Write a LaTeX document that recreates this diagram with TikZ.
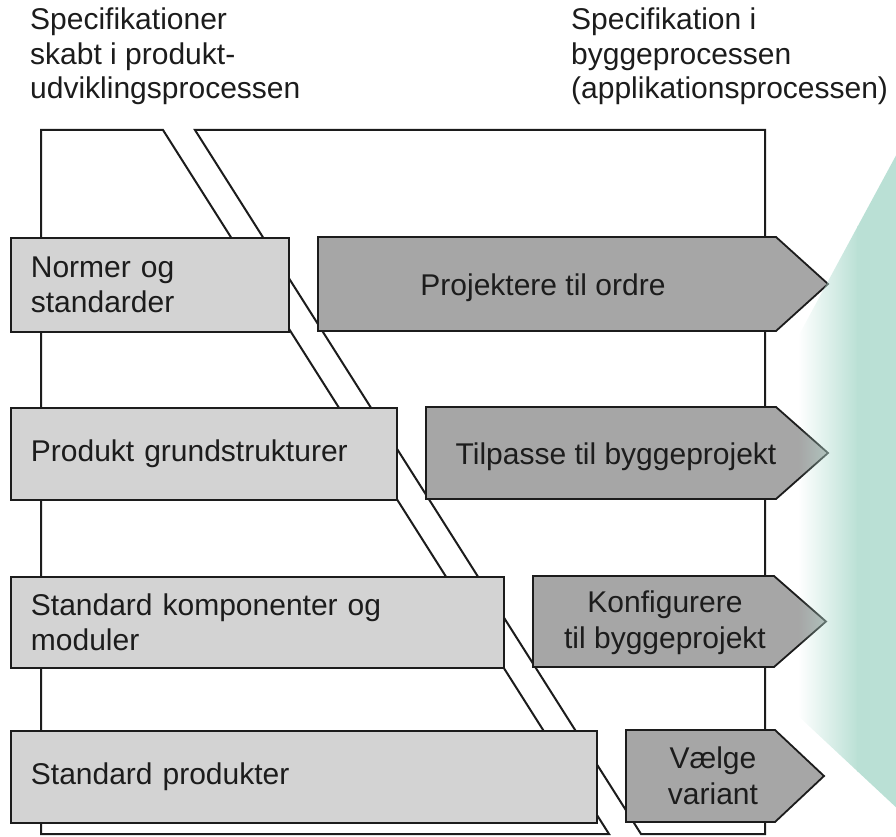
\documentclass[tikz,border=0pt]{standalone}
\usepackage{fontspec}
\setmainfont{Liberation Sans}
\usetikzlibrary{fadings}

\definecolor{lightfill}{RGB}{211,211,211}
\definecolor{darkfill}{RGB}{166,166,166}
\definecolor{inkc}{RGB}{28,28,28}
\definecolor{tealc}{RGB}{186,224,213}

% horizontal ramp: transparent on the left, opaque on the right
\tikzfading[name=tealramp, left color=transparent!100, right color=transparent!0]

\tikzset{
  frameline/.style={draw=inkc, line width=2pt, line join=miter},
  lightbox/.style={draw=inkc, line width=1.8pt, fill=lightfill, anchor=north west,
    align=left, inner xsep=20pt, inner ysep=0pt, text=inkc,
    font=\fontsize{30}{35}\selectfont},
  darkshape/.style={draw=inkc, line width=1.8pt, fill=darkfill, line join=miter},
  arrowtext/.style={align=center, inner sep=0pt, text=inkc,
    font=\fontsize{30}{36}\selectfont},
  headtext/.style={align=left, inner sep=0pt, anchor=north west, text=inkc,
    font=\fontsize{30}{34.5}\selectfont}
}

\begin{document}
\begin{tikzpicture}[x=1pt, y=-1pt]
\useasboundingbox (0,0) rectangle (896,837);

% column headings
\node[headtext] (hleft) at (30,8) {Specifikationer\\skabt i produkt-\\udviklingsprocessen};
\node[headtext] (hright) at (571,8) {Specifikation i\\byggeprocessen\\(applikationsprocessen)};

% the two slanted panels
\draw[frameline] (41,130) -- (163,130) -- (609,834) -- (41,834) -- cycle;
\draw[frameline] (195,130) -- (765,130) -- (765,834) -- (641,834) -- cycle;

% product development specifications
\node[lightbox, text width=238pt, minimum height=94pt] (norm) at (10,237) {Normer og\\standarder};
\node[lightbox, text width=346pt, minimum height=92pt] (grund) at (10,407) {Produkt grundstrukturer};
\node[lightbox, text width=453pt, minimum height=91pt] (komp) at (10,576) {Standard komponenter og\\moduler};
\node[lightbox, text width=546pt, minimum height=92pt] (prod) at (10,730) {Standard produkter};

% building process activities
\draw[darkshape] (318,237) -- (776,237) -- (828,284) -- (776,331) -- (318,331) -- cycle;
\draw[darkshape] (426,407) -- (776,407) -- (828,453) -- (776,499) -- (426,499) -- cycle;
\draw[darkshape] (533,576) -- (774,576) -- (826,621.5) -- (774,667) -- (533,667) -- cycle;
\draw[darkshape] (626,730) -- (775,730) -- (824,776) -- (775,822) -- (626,822) -- cycle;

\node[arrowtext, anchor=base] (proj) at (543,295) {Projektere til ordre};
\node[arrowtext, anchor=base] (tilp) at (616,464) {Tilpasse til byggeprojekt};
\node[arrowtext] (konf) at (665,622.6) {Konfigurere\\til byggeprojekt};
\node[arrowtext] (vaelg) at (713,775.5) {Vælge\\variant};

% teal wedge on the right, fading in from the left
\begin{scope}
  \clip (900,148) -- (780,370) -- (780,699) -- (900,811) -- cycle;
  \fill[tealc, path fading=tealramp] (798,140) rectangle (858,820);
  \fill[tealc] (857,140) rectangle (900,820);
\end{scope}
\end{tikzpicture}
\end{document}
